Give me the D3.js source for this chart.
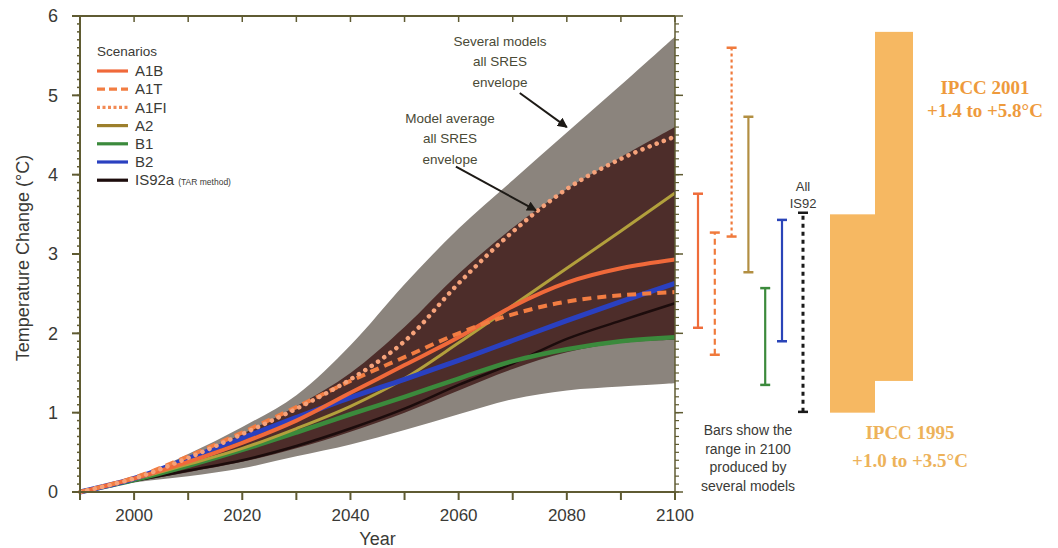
<!DOCTYPE html>
<html>
<head>
<meta charset="utf-8">
<script src="https://cdn.jsdelivr.net/npm/d3@7"></script>
<style>
  html, body { margin: 0; padding: 0; background: #fff; }
  svg { display: block; font-family: "Liberation Sans", Arial, sans-serif; }
</style>
</head>
<body>
<svg id="chart" width="1058" height="548"></svg>
<script>
// ---- data ----------------------------------------------------------------
const years = [1990, 2000, 2010, 2020, 2030, 2040, 2050, 2060, 2070, 2080, 2090, 2100];

// envelopes: [low, high] per year
const outerLow  = [0, 0.12, 0.20, 0.30, 0.45, 0.60, 0.78, 0.98, 1.17, 1.28, 1.33, 1.37];
const outerHigh = [0, 0.17, 0.48, 0.82, 1.22, 1.85, 2.62, 3.32, 3.93, 4.53, 5.13, 5.74];
const innerLow  = [0, 0.13, 0.25, 0.38, 0.55, 0.76, 1.00, 1.28, 1.55, 1.76, 1.88, 1.92];
const innerHigh = [0, 0.16, 0.43, 0.73, 1.08, 1.50, 2.08, 2.75, 3.33, 3.82, 4.22, 4.60];

// scenario projections (°C)
const A1B  = [0, 0.17, 0.38, 0.62, 0.90, 1.25, 1.60, 1.95, 2.34, 2.64, 2.82, 2.93];
const A1T  = [0, 0.18, 0.45, 0.75, 1.07, 1.40, 1.70, 2.00, 2.24, 2.40, 2.48, 2.52];
const A1FI = [0, 0.17, 0.43, 0.73, 1.05, 1.42, 1.90, 2.63, 3.28, 3.82, 4.20, 4.48];
const A2   = [0, 0.16, 0.35, 0.55, 0.80, 1.08, 1.43, 1.88, 2.35, 2.82, 3.29, 3.77];
const B1   = [0, 0.15, 0.33, 0.53, 0.75, 0.98, 1.20, 1.43, 1.65, 1.80, 1.90, 1.95];
const B2   = [0, 0.17, 0.42, 0.68, 0.94, 1.19, 1.42, 1.66, 1.91, 2.16, 2.40, 2.63];
const IS92a= [0, 0.14, 0.27, 0.40, 0.58, 0.80, 1.05, 1.35, 1.62, 1.93, 2.16, 2.38];

// ranges in 2100 produced by several models
const barNames = ["A1B", "A1T", "A1FI", "A2", "B1", "B2", "IS92"];
const barLow   = [2.07, 1.73, 3.22, 2.77, 1.35, 1.90, 1.01];
const barHigh  = [3.76, 3.27, 5.60, 4.73, 2.57, 3.43, 3.52];

// IPCC assessed ranges
const ipccNames = ["IPCC 1995", "IPCC 2001"];
const ipccLow   = [1.0, 1.4];
const ipccHigh  = [3.5, 5.8];
const ipccText  = ["+1.0 to +3.5°C", "+1.4 to +5.8°C"];

const xTicks = [2000, 2020, 2040, 2060, 2080, 2100];
const yTicks = [0, 1, 2, 3, 4, 5, 6];

// ---- styles --------------------------------------------------------------
const styles = {
  A1B:   { color: "#f0693a", width: 4,   dash: null },
  A1T:   { color: "#f27d42", width: 4,   dash: "9,6" },
  A1FI:  { color: "#f6a27a", width: 4.5, dash: "0.1,7.5", cap: "round" },
  A2:    { color: "#b2a03c", width: 3,   dash: null },
  B1:    { color: "#3b8a3c", width: 4.5, dash: null },
  B2:    { color: "#2a40c0", width: 5,   dash: null },
  IS92a: { color: "#1c0c0c", width: 2.5, dash: null }
};
const series = { A1B, A1T, A1FI, A2, B1, B2, IS92a };
const drawOrder = ["IS92a", "B1", "A2", "B2", "A1B", "A1T", "A1FI"];

// ---- scales --------------------------------------------------------------
const svg = d3.select("#chart");
const x = d3.scaleLinear().domain([1990, 2100]).range([80, 675]);
const y = d3.scaleLinear().domain([0, 6]).range([492, 16]);
const axisColor = "#5f5b32";
const textColor = "#3a3a36";
const curve = d3.curveCatmullRom.alpha(0.5);

// ---- envelopes -----------------------------------------------------------
const band = (lo, hi) => d3.area()
  .x((d, i) => x(years[i]))
  .y0((d, i) => y(lo[i]))
  .y1((d, i) => y(hi[i]))
  .curve(curve)(years);

svg.append("path").attr("d", band(outerLow, outerHigh)).attr("fill", "#8b847d");
svg.append("path").attr("d", band(innerLow, innerHigh)).attr("fill", "#4d2d2a");

// ---- scenario lines ------------------------------------------------------
const line = d3.line().x((d, i) => x(years[i])).y(d => y(d)).curve(curve);
drawOrder.forEach(k => {
  const s = styles[k];
  svg.append("path")
    .attr("d", line(series[k]))
    .attr("fill", "none")
    .attr("stroke", s.color)
    .attr("stroke-width", s.width)
    .attr("stroke-dasharray", s.dash)
    .attr("stroke-linecap", s.cap || "butt");
});

// ---- axes ----------------------------------------------------------------
const gAx = svg.append("g").attr("stroke", axisColor).attr("fill", "none");
// frame
gAx.append("line").attr("x1", 72).attr("x2", x(2100)).attr("y1", y(6)).attr("y2", y(6)).attr("stroke-width", 2);
gAx.append("line").attr("x1", 72).attr("x2", x(2100)).attr("y1", y(0)).attr("y2", y(0)).attr("stroke-width", 2);
gAx.append("line").attr("x1", x(1990)).attr("x2", x(1990)).attr("y1", y(6)).attr("y2", y(0) + 8).attr("stroke-width", 2);
gAx.append("line").attr("x1", x(2100)).attr("x2", x(2100)).attr("y1", y(6)).attr("y2", y(0) + 8).attr("stroke-width", 1.5);

// decade ticks on bottom (outward) and top (inward)
d3.range(2000, 2101, 10).forEach(t => {
  gAx.append("line").attr("x1", x(t)).attr("x2", x(t)).attr("y1", y(0)).attr("y2", y(0) + 8).attr("stroke-width", 2);
  gAx.append("line").attr("x1", x(t)).attr("x2", x(t)).attr("y1", y(6)).attr("y2", y(6) + 6).attr("stroke-width", 1.5);
});
// minor ticks on left and right
d3.range(0, 60).map(i => i / 10).forEach(v => {
  gAx.append("line").attr("x1", x(1990) - 3).attr("x2", x(1990)).attr("y1", y(v)).attr("y2", y(v)).attr("stroke-width", 1.5);
  gAx.append("line").attr("x1", x(2100)).attr("x2", x(2100) + 4).attr("y1", y(v)).attr("y2", y(v)).attr("stroke-width", 1.2);
});
yTicks.forEach(v => {
  gAx.append("line").attr("x1", x(1990) - 8).attr("x2", x(1990)).attr("y1", y(v)).attr("y2", y(v)).attr("stroke-width", 2);
  gAx.append("line").attr("x1", x(2100)).attr("x2", x(2100) + 8).attr("y1", y(v)).attr("y2", y(v)).attr("stroke-width", 1.5);
});

svg.append("g").selectAll("text").data(yTicks).join("text")
  .attr("x", 53).attr("y", d => y(d)).attr("dy", "0.35em")
  .attr("text-anchor", "middle").attr("font-size", 18).attr("fill", textColor)
  .text(d => d);
svg.append("g").selectAll("text").data(xTicks).join("text")
  .attr("x", d => x(d)).attr("y", y(0) + 23).attr("dy", "0.35em")
  .attr("text-anchor", "middle").attr("font-size", 17).attr("fill", textColor)
  .text(d => d);

svg.append("text").attr("x", x(2045)).attr("y", 539).attr("dy", "0.35em")
  .attr("text-anchor", "middle").attr("font-size", 18).attr("fill", textColor).text("Year");
svg.append("text").attr("transform", `translate(23,${y(3) + 4}) rotate(-90)`)
  .attr("text-anchor", "middle").attr("dy", "0.35em")
  .attr("font-size", 18).attr("fill", textColor).text("Temperature Change (°C)");

// ---- legend --------------------------------------------------------------
const legKeys = ["A1B", "A1T", "A1FI", "A2", "B1", "B2", "IS92a"];
const legend = svg.append("g");
legend.append("text").attr("x", 97).attr("y", 51).attr("dy", "0.35em")
  .attr("font-size", 13.5).attr("fill", textColor).text("Scenarios");
legKeys.forEach((k, i) => {
  const yy = 71 + i * 18.2;
  const s = styles[k];
  const legDash = { A1T: "8,4", A1FI: "3,2.5" }[k] || null;
  const legColor = k === "A2" ? "#9c7f2c" : k === "A1FI" ? "#f28a55" : s.color;
  legend.append("line").attr("x1", 97).attr("x2", 128).attr("y1", yy).attr("y2", yy)
    .attr("stroke", legColor).attr("stroke-width", 3.2).attr("stroke-dasharray", legDash);
  const t = legend.append("text").attr("x", 135).attr("y", yy).attr("dy", "0.35em")
    .attr("font-size", 15).attr("fill", textColor).text(k);
  if (k === "IS92a") {
    t.append("tspan").attr("font-size", 8.5).attr("dx", 4).text("(TAR method)");
  }
});

// ---- annotations with arrows ---------------------------------------------
const defs = svg.append("defs");
defs.append("marker").attr("id", "head").attr("viewBox", "0 0 10 10")
  .attr("refX", 9).attr("refY", 5).attr("markerWidth", 5).attr("markerHeight", 5)
  .attr("orient", "auto")
  .append("path").attr("d", "M0,0 L10,5 L0,10 z").attr("fill", "#1d1a16");

function note(lines, cx, cy, from, to) {
  const g = svg.append("g");
  lines.forEach((s, i) => g.append("text").attr("x", cx).attr("y", cy + i * 20.5).attr("dy", "0.35em")
    .attr("text-anchor", "middle").attr("font-size", 13.5).attr("fill", "#4a4a36").text(s));
  g.append("line").attr("x1", from[0]).attr("y1", from[1]).attr("x2", to[0]).attr("y2", to[1])
    .attr("stroke", "#1d1a16").attr("stroke-width", 2).attr("marker-end", "url(#head)");
}
note(["Several models", "all SRES", "envelope"], 500, 41,
  [x(2071.3), y(5.03)], [x(2080), y(4.6)]);
note(["Model average", "all SRES", "envelope"], 450, 118,
  [x(2059.5), y(4.1)], [x(2074.3), y(3.55)]);

// ---- model ranges in 2100 ------------------------------------------------
const slot = d3.scaleLinear().domain([0, 5]).range([698, 782]);
const barSlot = [0, 1, 2, 3, 4, 5, 6.25];
const barStyle = [
  { color: "#ef6c3a", dash: null, w: 2.2 },
  { color: "#f07a3c", dash: "6,4", w: 2.2 },
  { color: "#f07a3c", dash: "3,3", w: 2.2 },
  { color: "#b28f42", dash: null, w: 2.2 },
  { color: "#3b8a3c", dash: null, w: 2.2 },
  { color: "#2a44b8", dash: null, w: 2.2 },
  { color: "#1a1a1a", dash: "4,4", w: 3 }
];
const bars = svg.append("g");
barNames.forEach((n, i) => {
  const bx = slot(barSlot[i]);
  const st = barStyle[i];
  bars.append("line").attr("x1", bx).attr("x2", bx).attr("y1", y(barLow[i])).attr("y2", y(barHigh[i]))
    .attr("stroke", st.color).attr("stroke-width", st.w).attr("stroke-dasharray", st.dash);
  [barLow[i], barHigh[i]].forEach(v => {
    bars.append("line").attr("x1", bx - 5).attr("x2", bx + 5).attr("y1", y(v)).attr("y2", y(v))
      .attr("stroke", st.color).attr("stroke-width", 2.5);
  });
});
svg.append("text").attr("x", slot(6.25)).attr("y", 186).attr("dy", "0.35em")
  .attr("text-anchor", "middle").attr("font-size", 13).attr("fill", textColor).text("All");
svg.append("text").attr("x", slot(6.25)).attr("y", 203).attr("dy", "0.35em")
  .attr("text-anchor", "middle").attr("font-size", 13).attr("fill", textColor).text("IS92");

["Bars show the", "range in 2100", "produced by", "several models"].forEach((s, i) => {
  svg.append("text").attr("x", 748).attr("y", 430 + i * 18.6).attr("dy", "0.35em")
    .attr("text-anchor", "middle").attr("font-size", 14).attr("fill", textColor).text(s);
});

// ---- IPCC assessed ranges ------------------------------------------------
const ipccX = d3.scaleLinear().domain([0, 1]).range([830, 875]);
const ipccFill = "#f6b862";
ipccNames.forEach((n, i) => {
  svg.append("rect")
    .attr("x", ipccX(i)).attr("width", i === 0 ? ipccX(1) - ipccX(0) : 38)
    .attr("y", y(ipccHigh[i])).attr("height", y(ipccLow[i]) - y(ipccHigh[i]))
    .attr("fill", ipccFill);
});
const serif = "'Liberation Serif', 'DejaVu Serif', serif";
function ipccLabel(tx, ty, str, color) {
  svg.append("text").attr("x", tx).attr("y", ty).attr("dy", "0.35em").attr("text-anchor", "middle")
    .style("font-family", serif).attr("font-weight", "bold").attr("font-size", 19).attr("fill", color)
    .text(str);
}
ipccLabel(985, 87, ipccNames[1], "#ee9a3c");
ipccLabel(985, 110, ipccText[1], "#ee9a3c");
ipccLabel(910, 432, ipccNames[0], "#edb25a");
ipccLabel(910, 460, ipccText[0], "#edb25a");
</script>
</body>
</html>
